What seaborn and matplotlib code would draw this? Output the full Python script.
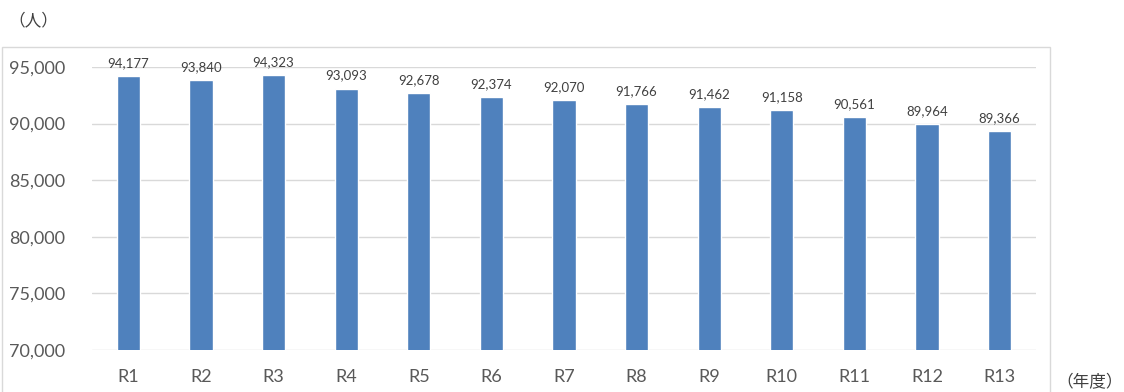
import matplotlib
matplotlib.use("Agg")
import matplotlib.pyplot as plt
import seaborn as sns
import pandas as pd
from matplotlib.patches import Rectangle

# data
years = ["R1", "R2", "R3", "R4", "R5", "R6", "R7", "R8", "R9", "R10", "R11", "R12", "R13"]
people = [94177, 93840, 94323, 93093, 92678, 92374, 92070, 91766, 91462, 91158, 90561, 89964, 89366]

df = pd.DataFrame({"year": years, "people": people})

sns.set_theme(style="white")
plt.rcParams["font.family"] = ["Lato", "Noto Sans CJK JP", "DejaVu Sans"]

fig = plt.figure(figsize=(11.24, 3.92), dpi=100)
ax = fig.add_axes([92 / 1124, 1 - 350 / 392, (1036 - 92) / 1124, (350 - 67) / 392])

sns.barplot(data=df, x="year", y="people", color="#4F81BD", saturation=1,
            width=0.32, ax=ax, zorder=3)

ax.set_ylim(70000, 95000)
ax.set_yticks(range(70000, 95001, 5000))
ax.set_yticklabels([f"{v:,}" for v in range(70000, 95001, 5000)])
ax.yaxis.grid(True, color="#D9D9D9", linewidth=1, zorder=0)
ax.set_axisbelow(True)
for s in ax.spines.values():
    s.set_visible(False)
ax.tick_params(axis="both", length=0, labelsize=13, colors="#595959")
ax.tick_params(axis="y", pad=19)
ax.tick_params(axis="x", pad=14)
ax.set_xlabel("")
ax.set_ylabel("")

ax.bar_label(ax.containers[0], labels=[f"{v:,}" for v in people],
             padding=5, fontsize=9.5, color="#404040")

# outer chart frame
fig.patches.append(Rectangle((2 / 1124, -0.02), (1050 - 2) / 1124, 1 - 47 / 392 + 0.02,
                             transform=fig.transFigure, fill=False,
                             edgecolor="#D9D9D9", linewidth=1))

fig.text(8 / 1124, 1 - 20 / 392, "（人）", fontsize=12, color="#404040", va="center")
fig.text(1056 / 1124, 1 - 382 / 392, "（年度）", fontsize=12, color="#404040", va="center")

fig.savefig("out.png", dpi=100)
